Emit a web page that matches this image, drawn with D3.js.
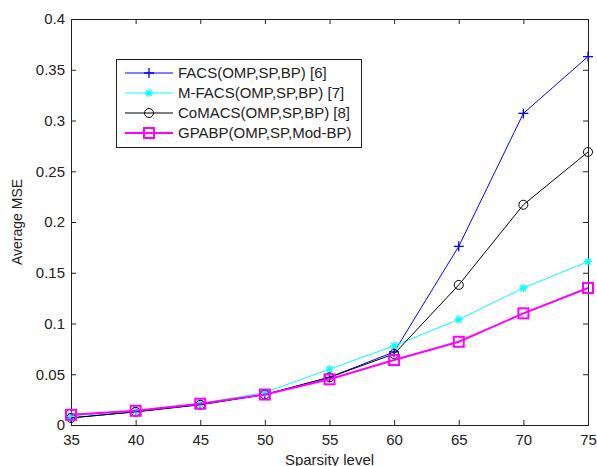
<!DOCTYPE html>
<html>
<head>
<meta charset="utf-8">
<script src="https://cdnjs.cloudflare.com/ajax/libs/d3/7.8.5/d3.min.js"></script>
<style>
body { margin: 0; background: #fff; }
text { font-family: Arial, "Liberation Sans", sans-serif; fill: #222; }
</style>
</head>
<body>
<div id="chart"></div>
<script>
const sparsity = [35, 40, 45, 50, 55, 60, 65, 70, 75];
const facs = [0.007, 0.013, 0.020, 0.030, 0.047, 0.072, 0.176, 0.307, 0.363];
const mfacs = [0.009, 0.014, 0.021, 0.032, 0.055, 0.078, 0.104, 0.135, 0.161];
const comacs = [0.007, 0.013, 0.020, 0.030, 0.047, 0.070, 0.138, 0.217, 0.269];
const gpabp = [0.010, 0.014, 0.021, 0.030, 0.045, 0.064, 0.082, 0.110, 0.135];
const xTicks = [35, 40, 45, 50, 55, 60, 65, 70, 75];
const yTicks = [0, 0.05, 0.1, 0.15, 0.2, 0.25, 0.3, 0.35, 0.4];
const seriesNames = ["FACS(OMP,SP,BP) [6]", "M-FACS(OMP,SP,BP) [7]", "CoMACS(OMP,SP,BP) [8]", "GPABP(OMP,SP,Mod-BP)"];

const W = 597, H = 466;
const m = {left: 71, top: 19, right: 9, bottom: 41};
const w = W - m.left - m.right, h = H - m.top - m.bottom;

const svg = d3.select("#chart").append("svg").attr("width", W).attr("height", H);
const g = svg.append("g").attr("transform", `translate(${m.left},${m.top})`);

const x = d3.scaleLinear().domain([35, 75]).range([0, w]);
const y = d3.scaleLinear().domain([0, 0.4]).range([h, 0]);

// axes with inward ticks, mirrored on top/right
g.append("g").attr("transform", `translate(0,${h})`)
    .call(d3.axisBottom(x).tickValues(xTicks).tickSize(-5).tickPadding(9).tickFormat(d3.format("d")));
g.append("g").call(d3.axisTop(x).tickValues(xTicks).tickSize(-5).tickFormat(""));
g.append("g").call(d3.axisLeft(y).tickValues(yTicks).tickSize(-5).tickPadding(6).tickFormat(d => d === 0 ? "0" : d3.format("~g")(d)));
g.append("g").attr("transform", `translate(${w},0)`).call(d3.axisRight(y).tickValues(yTicks).tickSize(-5).tickFormat(""));
g.selectAll(".domain").attr("stroke", "#222");
g.selectAll(".tick line").attr("stroke", "#222");
g.selectAll(".tick text").style("font-size", "15px").attr("fill", "#222");

const series = [
    {name: seriesNames[0], vals: facs, color: "#0000ff", width: 1, marker: "plus"},
    {name: seriesNames[1], vals: mfacs, color: "#00ffff", width: 1, marker: "star"},
    {name: seriesNames[2], vals: comacs, color: "#000000", width: 1, marker: "circle"},
    {name: seriesNames[3], vals: gpabp, color: "#ff00ff", width: 2, marker: "square"}
];

const line = d3.line().x(d => x(d[0])).y(d => y(d[1]));

function drawMarker(sel, type, color, cx, cy) {
    if (type === "plus") {
        sel.append("path").attr("d", `M${cx - 5},${cy}H${cx + 5}M${cx},${cy - 5}V${cy + 5}`)
            .attr("stroke", color).attr("stroke-width", 1.3).attr("fill", "none");
    } else if (type === "star") {
        sel.append("path").attr("d", `M${cx - 4},${cy}H${cx + 4}M${cx},${cy - 4}V${cy + 4}M${cx - 3},${cy - 3}L${cx + 3},${cy + 3}M${cx - 3},${cy + 3}L${cx + 3},${cy - 3}`)
            .attr("stroke", color).attr("stroke-width", 1.3).attr("fill", "none");
    } else if (type === "circle") {
        sel.append("circle").attr("cx", cx).attr("cy", cy).attr("r", 4.5)
            .attr("stroke", color).attr("stroke-width", 1).attr("fill", "none");
    } else {
        sel.append("rect").attr("x", cx - 5).attr("y", cy - 5).attr("width", 10).attr("height", 10)
            .attr("stroke", color).attr("stroke-width", 2).attr("fill", "none");
    }
}

series.forEach(function (s) {
    const pts = sparsity.map((v, i) => [v, s.vals[i]]);
    g.append("path").attr("d", line(pts)).attr("fill", "none")
        .attr("stroke", s.color).attr("stroke-width", s.width);
    const mg = g.append("g");
    pts.forEach(p => drawMarker(mg, s.marker, s.color, x(p[0]), y(p[1])));
});

// legend
const lg = svg.append("g");
lg.append("rect").attr("x", 116.5).attr("y", 59.5).attr("width", 245).attr("height", 88)
    .attr("fill", "#fff").attr("stroke", "#222").attr("stroke-width", 1);
series.forEach(function (s, i) {
    const ly = 73 + i * 20;
    lg.append("line").attr("x1", 125).attr("x2", 173).attr("y1", ly).attr("y2", ly)
        .attr("stroke", s.color).attr("stroke-width", s.width);
    drawMarker(lg, s.marker, s.color, 149, ly);
    lg.append("text").attr("x", 178).attr("y", ly + 5).style("font-size", "15px").text(s.name);
});

// axis labels
svg.append("text").attr("x", m.left + w / 2).attr("y", 465).attr("text-anchor", "middle")
    .style("font-size", "15px").text("Sparsity level");
svg.append("text").attr("transform", `translate(22,${m.top + h / 2}) rotate(-90)`)
    .attr("text-anchor", "middle").style("font-size", "14px").text("Average MSE");
</script>
</body>
</html>
